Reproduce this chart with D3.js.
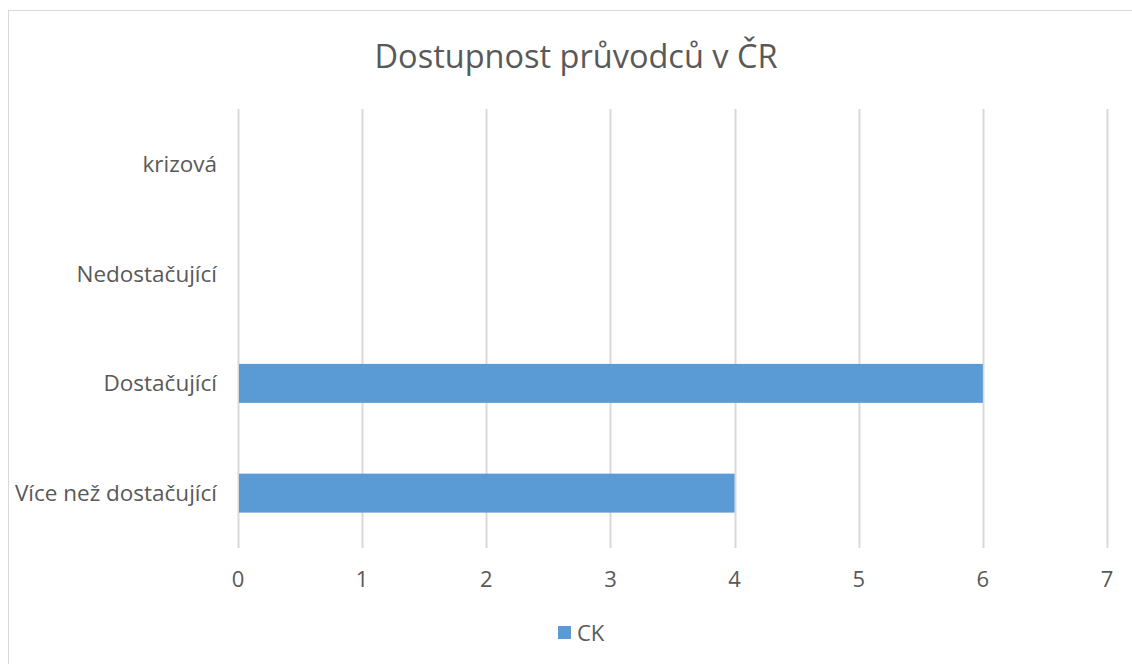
<!DOCTYPE html>
<html>
<head>
<meta charset="utf-8">
<script src="https://cdn.jsdelivr.net/npm/d3@7"></script>
<style>
  body { margin: 0; background: #fff; }
  text { font-family: "Open Sans", sans-serif; fill: #595959; }
</style>
</head>
<body>
<svg id="chart" width="1132" height="664"></svg>
<script>
// data
var categories = ["krizová", "Nedostačující", "Dostačující", "Více než dostačující"];
var values = [0, 0, 6, 4];
var xTicks = [0, 1, 2, 3, 4, 5, 6, 7];
var seriesName = "CK";
var title = "Dostupnost průvodců v ČR";

var svg = d3.select("#chart");

// outer chart border
svg.append("rect")
    .attr("x", 8.5).attr("y", 10.5)
    .attr("width", 1140).attr("height", 700)
    .attr("fill", "#fff")
    .attr("stroke", "#d9d9d9");

var plot = {left: 238, right: 1107, top: 109, bottom: 548};

var x = d3.scaleLinear().domain([0, 7]).range([plot.left, plot.right]);
var y = d3.scaleBand().domain(categories).range([plot.top, plot.bottom]).padding(0);

// gridlines
svg.append("g").selectAll("line")
    .data(xTicks)
  .enter().append("line")
    .attr("x1", function(d) { return Math.round(x(d)) + 0.5; })
    .attr("x2", function(d) { return Math.round(x(d)) + 0.5; })
    .attr("y1", plot.top)
    .attr("y2", plot.bottom)
    .attr("stroke", "#d9d9d9")
    .attr("stroke-width", 2);

// bars
var barH = y.bandwidth() * 0.355;
svg.append("g").selectAll("rect")
    .data(values)
  .enter().append("rect")
    .attr("x", x(0) + 1)
    .attr("y", function(d, i) { return y(categories[i]) + (y.bandwidth() - barH) / 2; })
    .attr("width", function(d) { return Math.max(0, x(d) - x(0) - 1); })
    .attr("height", barH)
    .attr("fill", "#5b9bd5");

// category labels
svg.append("g").selectAll("text")
    .data(categories)
  .enter().append("text")
    .attr("x", 217)
    .attr("y", function(d) { return y(d) + y.bandwidth() / 2; })
    .attr("dy", "0.35em")
    .attr("text-anchor", "end")
    .style("font-size", "22.5px")
    .text(function(d) { return d; });

// x tick labels
svg.append("g").selectAll("text")
    .data(xTicks)
  .enter().append("text")
    .attr("x", function(d) { return x(d); })
    .attr("y", 579)
    .attr("dy", "0.35em")
    .attr("text-anchor", "middle")
    .style("font-size", "22px")
    .text(function(d) { return d; });

// title
svg.append("text")
    .attr("x", 576)
    .attr("y", 68)
    .attr("text-anchor", "middle")
    .style("font-size", "32.5px")
    .text(title);

// legend
svg.append("rect")
    .attr("x", 558).attr("y", 626)
    .attr("width", 13).attr("height", 13)
    .attr("fill", "#5b9bd5");
svg.append("text")
    .attr("x", 577)
    .attr("y", 633)
    .attr("dy", "0.35em")
    .style("font-size", "22px")
    .text(seriesName);
</script>
</body>
</html>
